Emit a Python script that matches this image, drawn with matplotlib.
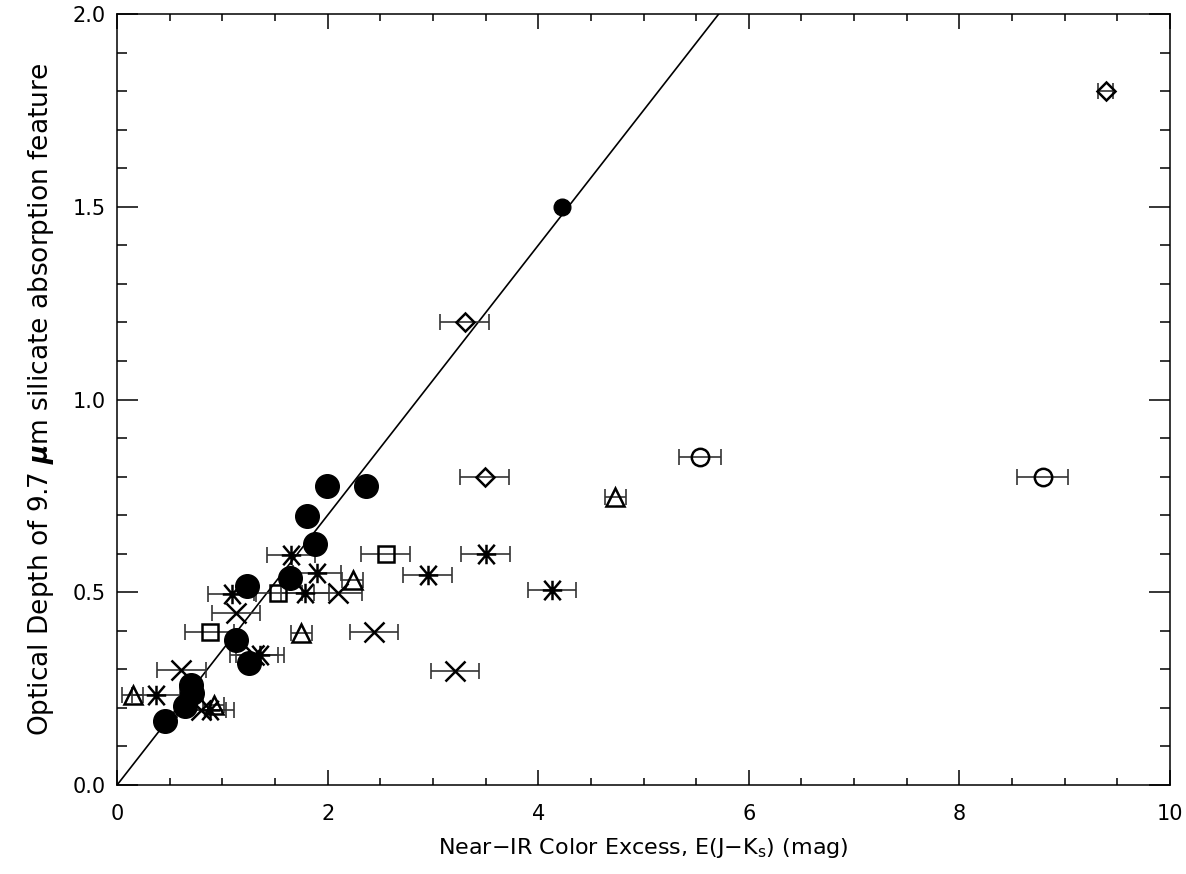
import numpy as np
import matplotlib
matplotlib.use("Agg")
from matplotlib import pyplot as plt
from matplotlib.path import Path
from matplotlib.ticker import MultipleLocator

plt.rcParams['font.family'] = ['DejaVu Sans']
plt.rcParams['mathtext.fontset'] = 'dejavusans'

# filled circles (no error bars)
circ_x = [0.46, 0.645, 0.70, 0.71, 1.13, 1.25, 1.23, 1.64, 1.88, 1.80, 1.99, 2.36]
circ_y = [0.165, 0.205, 0.26, 0.24, 0.376, 0.316, 0.515, 0.537, 0.626, 0.698, 0.776, 0.776]
# small filled circle
dot_x = [4.23]
dot_y = [1.50]
# open diamonds
dia_x = [3.30, 3.49, 9.39]
dia_y = [1.20, 0.80, 1.80]
dia_err = [0.23, 0.23, 0.07]
# open circles
oc_x = [5.54, 8.79]
oc_y = [0.85, 0.80]
oc_err = [0.20, 0.24]
# open triangles
tri_x = [0.15, 0.92, 1.75, 2.24, 4.73]
tri_y = [0.234, 0.207, 0.395, 0.533, 0.747]
tri_err = [0.10, 0.10, 0.10, 0.10, 0.10]
# open squares
sq_x = [0.88, 1.53, 2.55]
sq_y = [0.396, 0.497, 0.598]
sq_err = [0.23, 0.23, 0.23]
# asterisks
ast_x = [0.37, 0.88, 1.09, 1.36, 1.65, 1.785, 1.90, 2.95, 3.50, 4.13]
ast_y = [0.234, 0.195, 0.495, 0.337, 0.597, 0.497, 0.549, 0.546, 0.598, 0.506]
ast_err = [0.23] * 10
# crosses
x_x = [0.61, 0.80, 1.13, 1.30, 2.10, 2.44, 3.21]
x_y = [0.298, 0.195, 0.445, 0.337, 0.497, 0.396, 0.296]
x_err = [0.23] * 7

fit_slope = 0.35

# IDL-like asterisk: plus and a full-size cross together
arms = [(0, 1), (1, 0), (0.85, 1), (-0.85, 1)]
verts = []
codes = []
for dx, dy in arms:
    verts += [(-dx, -dy), (dx, dy)]
    codes += [Path.MOVETO, Path.LINETO]
ast_marker = Path(verts, codes)

fig = plt.figure(figsize=(11.86, 8.74), dpi=100)
ax = fig.add_axes([0.0987, 0.1018, 0.8878, 0.8822])

xx = np.array([0, 10])
ax.plot(xx, fit_slope * xx, color='k', lw=1.2, zorder=1)

eb = dict(fmt='none', ecolor='#333333', elinewidth=1.2, capsize=5.5, capthick=1.2, zorder=2)
ax.errorbar(dia_x, dia_y, xerr=dia_err, **eb)
ax.errorbar(oc_x, oc_y, xerr=oc_err, **eb)
ax.errorbar(tri_x, tri_y, xerr=tri_err, **eb)
ax.errorbar(sq_x, sq_y, xerr=sq_err, **eb)
ax.errorbar(ast_x, ast_y, xerr=ast_err, **eb)
ax.errorbar(x_x, x_y, xerr=x_err, **eb)

mk = dict(linestyle='none', markerfacecolor='none', markeredgecolor='k', markeredgewidth=1.8, zorder=3)
ax.plot(dia_x, dia_y, marker='D', markersize=9.5, **mk)
ax.plot(oc_x, oc_y, marker='o', markersize=12.5, **mk)
ax.plot(tri_x, tri_y, marker='^', markersize=13, **mk)
ax.plot(sq_x, sq_y, marker='s', markersize=12, **mk)
ax.plot(ast_x, ast_y, marker=ast_marker, markersize=14, **mk)
ax.plot(x_x, x_y, marker='x', markersize=14, **mk)
ax.plot(circ_x, circ_y, 'o', color='k', markersize=17, zorder=4)
ax.plot(dot_x, dot_y, 'o', color='k', markersize=12, zorder=4)

ax.set_xlim(0, 10)
ax.set_ylim(0, 2.0)
ax.xaxis.set_major_locator(MultipleLocator(2))
ax.xaxis.set_minor_locator(MultipleLocator(0.5))
ax.yaxis.set_major_locator(MultipleLocator(0.5))
ax.yaxis.set_minor_locator(MultipleLocator(0.1))
ax.yaxis.set_major_formatter(matplotlib.ticker.FormatStrFormatter('%.1f'))
ax.tick_params(which='both', direction='in', top=True, right=True, labelsize=15, width=1.1)
ax.tick_params(axis='x', which='major', length=10.5, pad=14)
ax.tick_params(axis='x', which='minor', length=5)
ax.tick_params(axis='y', which='major', length=15, pad=8)
ax.tick_params(axis='y', which='minor', length=7.5)
for s in ax.spines.values():
    s.set_linewidth(1.1)

ax.set_xlabel('Near\u2212IR Color Excess, E(J\u2212K$_{\\rm s}$) (mag)', fontsize=16, labelpad=8)
ax.set_ylabel('Optical Depth of 9.7 $\\boldsymbol{\\mu}$m silicate absorption feature', fontsize=19, labelpad=12)

fig.savefig('out.png', dpi=100)
